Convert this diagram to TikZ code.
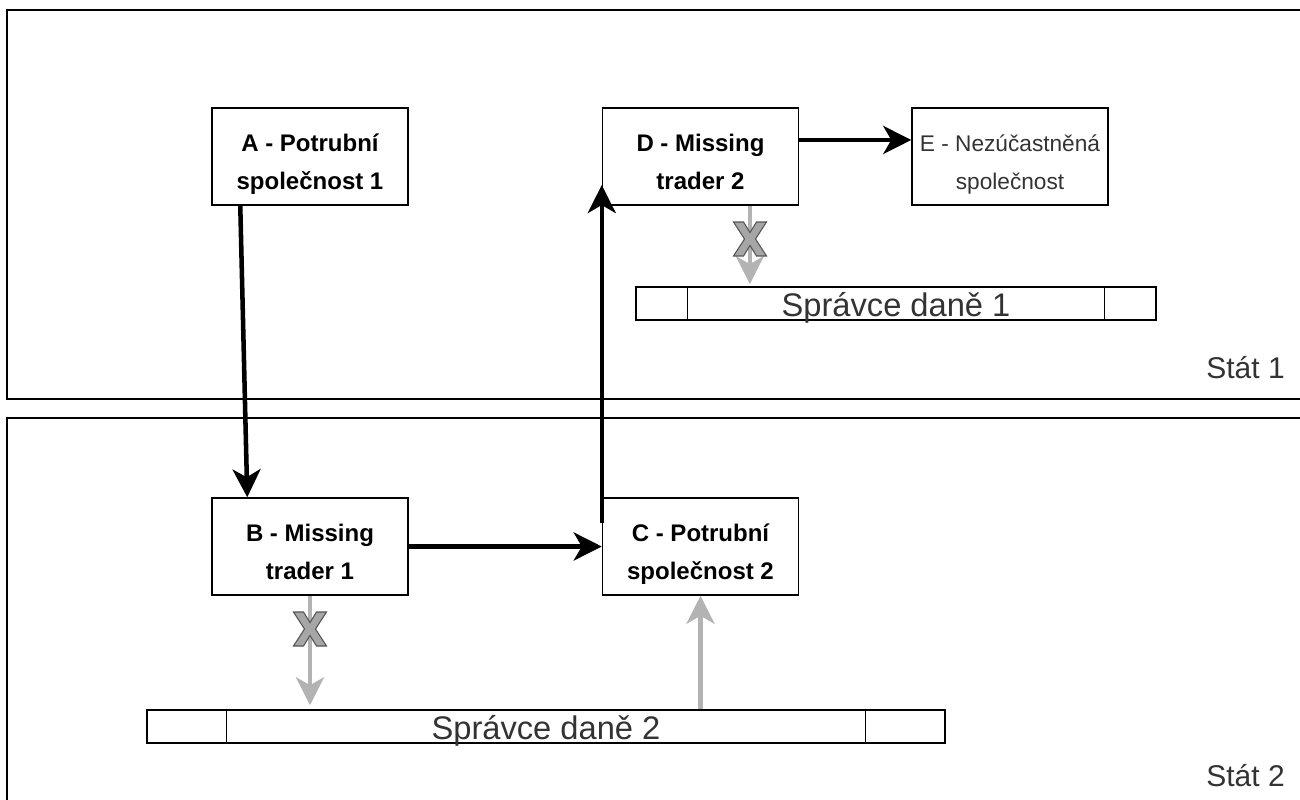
\documentclass[tikz,border=0pt]{standalone}
\usepackage{fontspec}
\setmainfont{Liberation Sans}
\usetikzlibrary{arrows.meta}
\definecolor{grayarrow}{RGB}{179,179,179}
\definecolor{xfill}{RGB}{166,166,166}
\definecolor{xline}{RGB}{85,85,85}
\definecolor{txtgray}{RGB}{51,51,51}
\newcommand\nomarkat[1]{%
  \path[nomark, shift={#1}] (-16.5,-17) -- (-6.5,-17) -- (0,-6.5) -- (6.5,-17) -- (16.5,-17) -- (5.5,0) -- (16.5,17) -- (6.5,17) -- (0,6.5) -- (-6.5,17) -- (-16.5,17) -- (-5.5,0) -- cycle;}
\begin{document}
\begin{tikzpicture}[x=0.75pt,y=-0.75pt,
  container/.style={draw, line width=1.1pt},
  firm/.style={draw, line width=1.1pt, minimum width=147pt, minimum height=72.75pt, inner sep=0pt, align=center, text height=48.8pt, text depth=0pt, font=\fontsize{18}{28.5}\selectfont\bfseries},
  plainfirm/.style={firm, font=\fontsize{17}{28.5}\selectfont, text=txtgray},
  taxoffice/.style={draw, line width=1.1pt, inner sep=0pt, text height=18.8pt, text depth=0pt, font=\fontsize{24.5}{28}\selectfont, text=txtgray},
  divider/.style={line width=1.1pt},
  statelabel/.style={font=\fontsize{22.5}{26}\selectfont, text=txtgray, inner sep=0pt, anchor=base east},
  flow/.style={line width=3.4pt, -{Stealth[length=21pt,width=21pt,inset=6pt]}},
  report/.style={line width=3.4pt, draw=grayarrow, -{Stealth[length=21pt,width=21pt,inset=6pt]}},
  nomark/.style={draw=xline, fill=xfill, line width=0.8pt, line join=miter}
]
\useasboundingbox (0,0) rectangle (1300,800);
\clip (0,0) rectangle (1300,800);
% state containers
\draw[container] (7,10) rectangle (1320,399);
\draw[container] (7,418) rectangle (1320,820);
\node[statelabel] (s1label) at (1285,378) {Stát 1};
\node[statelabel] (s2label) at (1285,786) {Stát 2};
% firms
\node[firm] (A) at (310,156.5) {A - Potrubní\\společnost 1};
\node[firm] (D) at (700.5,156.5) {D - Missing\\trader 2};
\node[plainfirm] (E) at (1010,156.5) {E - Nezúčastněná\\společnost};
\node[firm] (B) at (310,546.5) {B - Missing\\trader 1};
\node[firm] (C) at (700.5,546.5) {C - Potrubní\\společnost 2};
% tax offices
\node[taxoffice, minimum width=390pt, minimum height=25pt] (T1) at (896,303.5) {Správce daně 1};
\draw[divider] ([xshift=39pt]T1.north west) -- ([xshift=39pt]T1.south west);
\draw[divider] ([xshift=-39pt]T1.north east) -- ([xshift=-39pt]T1.south east);
\node[taxoffice, minimum width=598.5pt, minimum height=24.75pt] (T2) at (546,726.5) {Správce daně 2};
\draw[divider] ([xshift=60pt]T2.north west) -- ([xshift=60pt]T2.south west);
\draw[divider] ([xshift=-60pt]T2.north east) -- ([xshift=-60pt]T2.south east);
% flows
\draw[flow] ([xshift=21.75pt]A.south west) -- ([xshift=27pt]B.north west);
\draw[flow] (B.east) -- (C.west);
\draw[flow] ([yshift=17.6pt]C.west) -- ([yshift=-21.4pt]D.west);
\draw[flow] ([yshift=12.4pt]D.east) -- ([yshift=12.4pt]E.west);
% reports
\coordinate (dtap) at ([xshift=37pt]D.south);
\draw[report, shorten >=1.5pt] (dtap) -- (dtap |- T1.north);
\draw[report, shorten >=3pt] (B.south) -- (B.south |- T2.north);
\draw[report] (C.south |- T2.north) -- (C.south);
\nomarkat{(750,239)}
\nomarkat{(310,629)}
\end{tikzpicture}
\end{document}
